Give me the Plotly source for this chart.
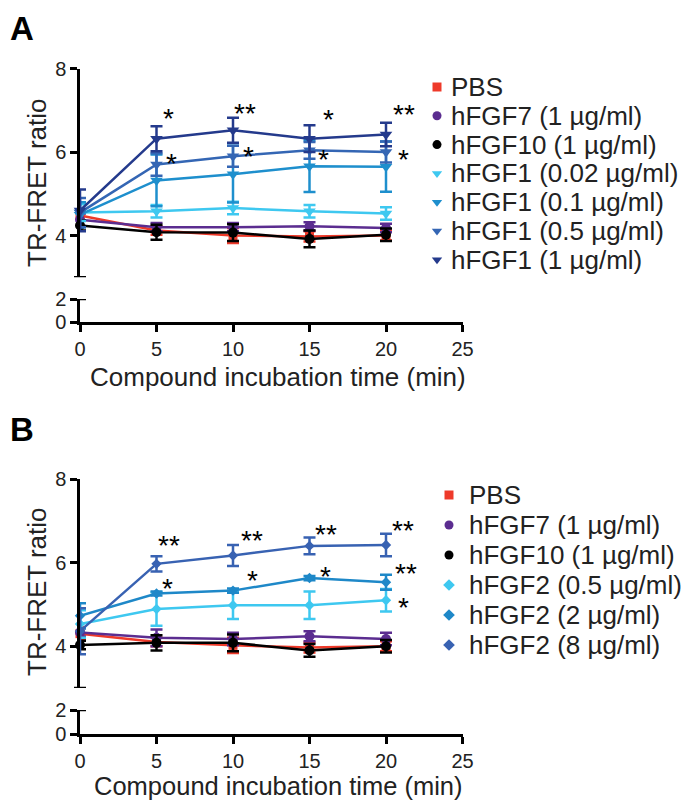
import plotly.graph_objects as go

# page is shown with the browser's 8px body margin, so the figure is shrunk by it
PAGE_W, PAGE_H = 690, 809
OFF = 8
W, H = PAGE_W - 2 * OFF, PAGE_H - 2 * OFF
B_UP = 3  # panel B nudged up a little so its x title fits above the page edge
FONT = "Liberation Sans, Arial, sans-serif"

# ---- data -------------------------------------------------------------
time_min = [0, 5, 10, 15, 20]
x_ticks = [0, 5, 10, 15, 20, 25]

# panel A (hFGF1)
a_names = ["PBS", "hFGF7 (1 µg/ml)", "hFGF10 (1 µg/ml)", "hFGF1 (0.02 µg/ml)",
           "hFGF1 (0.1 µg/ml)", "hFGF1 (0.5 µg/ml)", "hFGF1 (1 µg/ml)"]
a_pbs = [4.48, 4.12, 4.00, 3.98, 4.00]
a_pbs_err = [0.12, 0.10, 0.18, 0.12, 0.12]
a_fgf7 = [4.38, 4.20, 4.20, 4.22, 4.18]
a_fgf7_err = [0.15, 0.10, 0.10, 0.10, 0.10]
a_fgf10 = [4.24, 4.08, 4.07, 3.92, 4.02]
a_fgf10_err = [0.12, 0.18, 0.20, 0.20, 0.15]
a_fgf1_002 = [4.55, 4.58, 4.66, 4.58, 4.53]
a_fgf1_002_err = [0.20, 0.15, 0.15, 0.15, 0.15]
a_fgf1_01 = [4.50, 5.32, 5.47, 5.66, 5.65]
a_fgf1_01_err = [0.30, 0.62, 0.68, 0.62, 0.60]
a_fgf1_05 = [4.55, 5.70, 5.90, 6.04, 6.00]
a_fgf1_05_err = [0.35, 0.27, 0.25, 0.20, 0.25]
a_fgf1_1 = [4.60, 6.32, 6.52, 6.32, 6.42]
a_fgf1_1_err = [0.50, 0.30, 0.30, 0.32, 0.28]

# panel B (hFGF2)
b_names = ["PBS", "hFGF7 (1 µg/ml)", "hFGF10 (1 µg/ml)", "hFGF2 (0.5 µg/ml)",
           "hFGF2 (2 µg/ml)", "hFGF2 (8 µg/ml)"]
b_pbs = [4.30, 4.10, 4.02, 3.97, 4.00]
b_pbs_err = [0.15, 0.10, 0.18, 0.12, 0.12]
b_fgf7 = [4.33, 4.20, 4.17, 4.24, 4.17]
b_fgf7_err = [0.10, 0.20, 0.15, 0.12, 0.15]
b_fgf10 = [4.03, 4.08, 4.08, 3.90, 4.00]
b_fgf10_err = [0.10, 0.18, 0.20, 0.15, 0.15]
b_fgf2_05 = [4.53, 4.89, 4.98, 4.98, 5.10]
b_fgf2_05_err = [0.33, 0.40, 0.33, 0.33, 0.27]
b_fgf2_2 = [4.73, 5.26, 5.33, 5.63, 5.53]
b_fgf2_2_err = [0.30, 0.05, 0.05, 0.05, 0.18]
b_fgf2_8 = [4.36, 5.97, 6.17, 6.40, 6.42]
b_fgf2_8_err = [0.55, 0.18, 0.25, 0.20, 0.27]

# significance marks: (series index, time index, label)
a_sig = [(6, 1, "*"), (6, 2, "**"), (6, 3, "*"), (6, 4, "**"),
         (5, 1, "*"), (5, 2, "*"), (5, 3, "*"), (5, 4, "*")]
b_sig = [(5, 1, "**"), (5, 2, "**"), (5, 3, "**"), (5, 4, "**"),
         (4, 1, "*"), (4, 2, "*"), (4, 3, "*"), (4, 4, "**"),
         (3, 4, "*")]

# ---- styles -----------------------------------------------------------
a_vals = [a_pbs, a_fgf7, a_fgf10, a_fgf1_002, a_fgf1_01, a_fgf1_05, a_fgf1_1]
a_errs = [a_pbs_err, a_fgf7_err, a_fgf10_err, a_fgf1_002_err, a_fgf1_01_err,
          a_fgf1_05_err, a_fgf1_1_err]
a_colors = ["#ee3a2a", "#5b2d90", "#000000", "#3ec8f0", "#1e8fcd", "#3466b4", "#243a8c"]
a_symbols = ["square", "circle", "circle"] + ["triangle-down"] * 4
a_sizes = [9, 10, 10, 11, 11, 11, 11]

b_vals = [b_pbs, b_fgf7, b_fgf10, b_fgf2_05, b_fgf2_2, b_fgf2_8]
b_errs = [b_pbs_err, b_fgf7_err, b_fgf10_err, b_fgf2_05_err, b_fgf2_2_err, b_fgf2_8_err]
b_colors = ["#ee3a2a", "#5b2d90", "#000000", "#3ec8f0", "#1e88c8", "#3862b2"]
b_symbols = ["square", "circle", "circle"] + ["diamond"] * 3
b_sizes = [9, 10, 10, 8, 8, 8]

# star offsets in px (dx right, dy down) from the data point
a_sig_off = [(12, -26), (12, -23), (19, -25), (18, -26),
             (15, -7), (15, -6), (14, 3), (17, 1)]
b_sig_off = [(12, -24), (19, -21), (16, -17), (17, -21),
             (11, -11), (19, -16), (16, -8), (20, -15),
             (17, 1)]


def px_x(px):
    # page pixel -> paper fraction
    return (px - OFF) / W


def px_y(py):
    return 1 - (py - OFF) / H


def px_yb(py):
    return px_y(py - B_UP)


fig = go.Figure()


def add_panel(vals, errs, names, colors, symbols, sizes, xa, ya):
    for v, e, n, c, s, sz in zip(vals, errs, names, colors, symbols, sizes):
        fig.add_trace(go.Scatter(
            x=time_min, y=v, name=n, mode="lines+markers",
            xaxis=xa, yaxis=ya, cliponaxis=False,
            line=dict(color=c, width=2.5),
            marker=dict(color=c, symbol=s, size=sz, line=dict(width=0)),
            error_y=dict(type="data", array=e, color=c, thickness=2.5, width=6),
            showlegend=False,
        ))


add_panel(a_vals, a_errs, a_names, a_colors, a_symbols, a_sizes, "x", "y2")
add_panel(b_vals, b_errs, b_names, b_colors, b_symbols, b_sizes, "x3", "y4")

annotations = []
for sig, offs, vals, xref, yref in [(a_sig, a_sig_off, a_vals, "x", "y2"),
                                    (b_sig, b_sig_off, b_vals, "x3", "y4")]:
    for (si, ti, lab), (dx, dy) in zip(sig, offs):
        annotations.append(dict(
            x=time_min[ti], y=vals[si][ti], xref=xref, yref=yref, text=lab,
            showarrow=False, xshift=dx, yshift=-dy - 6,
            font=dict(family=FONT, size=28, color="black")))

# legends (drawn manually for tight row spacing)
leg_x = []
leg_y = []
leg_c = []
leg_s = []
for names, colors, symbols, sx, tx, y0, gap in [
        (a_names, a_colors, a_symbols, 437, 449, 87, 28.8),
        (b_names, b_colors, b_symbols, 449, 467, 498 - B_UP, 30)]:
    for i, (n, c, s) in enumerate(zip(names, colors, symbols)):
        yy = y0 + i * gap
        leg_x.append(sx - OFF)
        leg_y.append(yy - OFF)
        leg_c.append(c)
        leg_s.append(s)
        annotations.append(dict(
            x=px_x(tx), y=px_y(yy), xref="paper", yref="paper", text=n,
            xanchor="left", yanchor="middle", showarrow=False,
            font=dict(family=FONT, size=26, color="#222222")))

fig.add_trace(go.Scatter(
    x=leg_x, y=leg_y, mode="markers", xaxis="x5", yaxis="y5",
    marker=dict(color=leg_c, symbol=leg_s, size=9), showlegend=False,
    cliponaxis=False, hoverinfo="skip"))

# axis titles and panel letters
for ypos in [px_y(183), px_yb(595)]:
    annotations.append(dict(
        x=px_x(37), y=ypos, xref="paper", yref="paper", text="TR-FRET ratio",
        textangle=-90, showarrow=False, xanchor="center", yanchor="middle",
        font=dict(family=FONT, size=26, color="#222222")))
annotations.append(dict(
    x=px_x(278), y=px_y(377), xref="paper", yref="paper",
    text="Compound incubation time (min)", showarrow=False,
    xanchor="center", yanchor="middle",
    font=dict(family=FONT, size=26, color="#222222")))
annotations.append(dict(
    x=px_x(278), y=0, xref="paper", yref="paper",
    text="Compound incubation time (min)", showarrow=False,
    xanchor="center", yanchor="bottom", height=29, borderpad=0,
    font=dict(family=FONT, size=25.5, color="#222222")))
annotations.append(dict(x=0, y=1, xref="paper", yref="paper",
                        text="<b>A</b>", showarrow=False,
                        xanchor="left", yanchor="top",
                        font=dict(family=FONT, size=33, color="black")))
annotations.append(dict(x=0, y=px_yb(432), xref="paper", yref="paper",
                        text="<b>B</b>", showarrow=False,
                        xanchor="left", yanchor="middle",
                        font=dict(family=FONT, size=33, color="black")))

axis_style = dict(showgrid=False, zeroline=False, showline=True, linecolor="black",
                  linewidth=2.5, ticks="outside", ticklen=7, tickwidth=2.5,
                  tickcolor="black", automargin=False,
                  tickfont=dict(family=FONT, size=20, color="#222222"))

x_dom = [px_x(80), px_x(462.5)]
fig.update_layout(
    width=W, height=H, template="none",
    paper_bgcolor="white", plot_bgcolor="rgba(0,0,0,0)",
    margin=dict(l=0, r=0, t=0, b=0),
    showlegend=False,
    xaxis=dict(domain=x_dom, range=[0, 25], anchor="y", tickvals=x_ticks, **axis_style),
    yaxis=dict(domain=[px_y(322), px_y(299)], range=[0, 2], anchor="x",
               tickvals=[0, 2], **axis_style),
    yaxis2=dict(domain=[px_y(277.3), px_y(68.5)], range=[3, 8], anchor="x",
                tickvals=[4, 6, 8], **axis_style),
    xaxis3=dict(domain=x_dom, range=[0, 25], anchor="y3", tickvals=x_ticks, **axis_style),
    yaxis3=dict(domain=[px_yb(737), px_yb(713)], range=[0, 2], anchor="x3",
                tickvals=[0, 2], **axis_style),
    yaxis4=dict(domain=[px_yb(691), px_yb(482)], range=[3, 8], anchor="x3",
                tickvals=[4, 6, 8], **axis_style),
    xaxis5=dict(domain=[0, 1], range=[0, W], anchor="y5", visible=False),
    yaxis5=dict(domain=[0, 1], range=[H, 0], anchor="x5", visible=False),
    annotations=annotations,
)

# end caps of the broken y axes
shapes = []
for yref, yv in [("y2", 3), ("y", 2), ("y4", 3), ("y3", 2)]:
    shapes.append(dict(type="line", xref="paper", yref=yref,
                       x0=px_x(74), x1=px_x(86), y0=yv, y1=yv,
                       line=dict(color="black", width=2.5)))
fig.update_layout(shapes=shapes)

fig.write_html("out.html")
